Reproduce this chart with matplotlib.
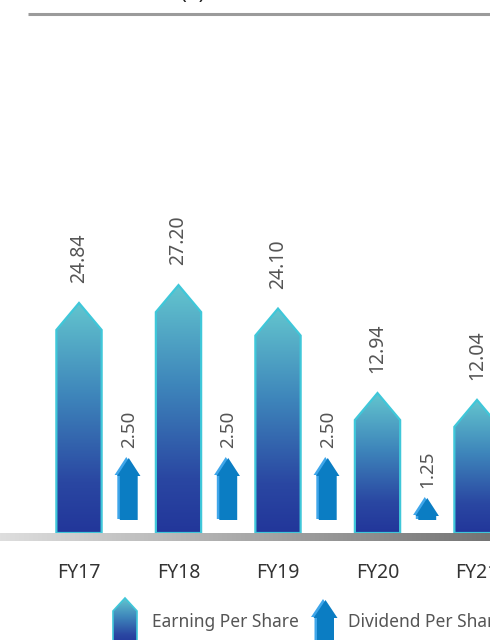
import numpy as np
import matplotlib.pyplot as plt
from matplotlib.patches import Polygon
from matplotlib.colors import LinearSegmentedColormap
from matplotlib import transforms

years = ["FY17", "FY18", "FY19", "FY20", "FY21"]
eps = [24.84, 27.20, 24.10, 12.94, 12.04]
dps = [2.50, 2.50, 2.50, 1.25]

plt.rcParams['font.family'] = ['Noto Sans', 'DejaVu Sans']

W, H = 490, 640
fig = plt.figure(figsize=(W / 100, H / 100), dpi=100)

# one slot per year, ~99.5 px wide, first slot centred at 79 px
slot, x0 = 99.5, 79
x_lim = (-x0 / slot, (W - x0) / slot)

# EPS arrows: 7.57 px per rupee, zero at 491 px from the top
eps_scale, eps_zero = 7.57, 491
eps_floor = (eps_zero - 533) / eps_scale
eps_head = 27 / eps_scale

# DPS arrows use their own scale: 32 px per rupee, zero at 538 px
dps_scale, dps_zero = 32, 538
dps_floor = (dps_zero - 520) / dps_scale
dps_head = 18 / dps_scale

eps_cmap = LinearSegmentedColormap.from_list(
    "eps", [(0, "#22369a"), (0.22, "#2a47a2"), (0.6, "#3e86bb"), (1, "#63c5ce")])
grey_cmap = LinearSegmentedColormap.from_list("base", ["#dedede", "#747474"])

DPS_MAIN, DPS_LIGHT = "#0b7dc3", "#3fa6ea"
EDGE = "#3fc7d9"


def make_axes(ylim):
    a = fig.add_axes([0, 0, 1, 1])
    a.set_xlim(*x_lim)
    a.set_ylim(*ylim)
    a.axis('off')
    return a


ax = make_axes(((eps_zero - H) / eps_scale, eps_zero / eps_scale))
ax_d = make_axes(((dps_zero - H) / dps_scale, dps_zero / dps_scale))

# pixel overlay for rules, legend and title (y measured up from the bottom)
ax_px = fig.add_axes([0, 0, 1, 1])
ax_px.set_xlim(0, W)
ax_px.set_ylim(0, H)
ax_px.axis('off')


def py(p):
    # pixel row from the top -> overlay y
    return H - p


def gradient_arrow(a, x, top, bottom, w, head, lw=1.6):
    pts = [(x - w / 2, bottom), (x + w / 2, bottom), (x + w / 2, top - head),
           (x, top), (x - w / 2, top - head)]
    patch = Polygon(pts, closed=True, facecolor='none', edgecolor=EDGE,
                    lw=lw, zorder=3, joinstyle='miter')
    a.add_patch(patch)
    grad = np.linspace(0, 1, 256).reshape(-1, 1)
    im = a.imshow(grad, extent=[x - w / 2, x + w / 2, bottom, top], origin='lower',
                  aspect='auto', cmap=eps_cmap, zorder=2, interpolation='bilinear')
    im.set_clip_path(patch)


def solid_arrow(a, x, top, bottom, shaft, headw, head, dx, dy):
    def pts(ox, oy):
        return [(x - shaft / 2 + ox, bottom + oy), (x + shaft / 2 + ox, bottom + oy),
                (x + shaft / 2 + ox, top - head + oy), (x + headw / 2 + ox, top - head + oy),
                (x + ox, top + oy), (x - headw / 2 + ox, top - head + oy),
                (x - shaft / 2 + ox, top - head + oy)]
    a.add_patch(Polygon(pts(-dx, dy), closed=True, facecolor=DPS_LIGHT, lw=0, zorder=2))
    a.add_patch(Polygon(pts(0, 0), closed=True, facecolor=DPS_MAIN, lw=0, zorder=3))


# EPS arrows and labels
for i, v in enumerate(eps):
    gradient_arrow(ax, i, v, eps_floor, 0.455, eps_head)
    ax.text(i, v + 20 / eps_scale, f"{v:.2f}", rotation=90, ha='center', va='bottom',
            fontsize=14, color='#555555')

# DPS arrows and labels
for i, v in enumerate(dps):
    solid_arrow(ax_d, i + 0.5, v, dps_floor, 0.18, 0.235, dps_head, 0.025, 1 / dps_scale)
    ax_d.text(i + 0.5, v + 10 / dps_scale, f"{v:.2f}", rotation=90, ha='center',
              va='bottom', fontsize=13.5, color='#555555')

# year labels
blend = transforms.blended_transform_factory(ax.transData, ax.transAxes)
for i, yr in enumerate(years):
    ax.text(i, (H - 573) / H, yr, transform=blend, ha='center', va='center',
            fontsize=14, color='#333333')

# base rule with grey fade
ax_px.imshow(np.linspace(0, 1, 256).reshape(1, -1), extent=[0, W, py(541), py(533)],
             cmap=grey_cmap, aspect='auto', zorder=5)

# title and its underline
ax_px.plot([28, W], [py(13.5), py(13.5)], color='#9b9b9b', lw=2.2, solid_capstyle='butt')
ax_px.text(205, py(-1), "Per Share (₹)", ha='right', va='baseline', fontsize=15,
           fontweight='bold', color='#222222')

# legend
gradient_arrow(ax_px, 125, py(598), py(645), 24, 13, lw=1.2)
ax_px.text(152, py(622), "Earning Per Share", va='center', fontsize=12.5, color='#555555')
solid_arrow(ax_px, 325.5, py(600), py(645), 17, 24, 18, 2.5, 1)
ax_px.text(348, py(622), "Dividend Per Share", va='center', fontsize=12.5, color='#555555')

ax_px.set_xlim(0, W)
ax_px.set_ylim(0, H)
for a in (ax, ax_d):
    a.set_xlim(*x_lim)
ax.set_ylim((eps_zero - H) / eps_scale, eps_zero / eps_scale)

fig.savefig("out.png", dpi=100)
